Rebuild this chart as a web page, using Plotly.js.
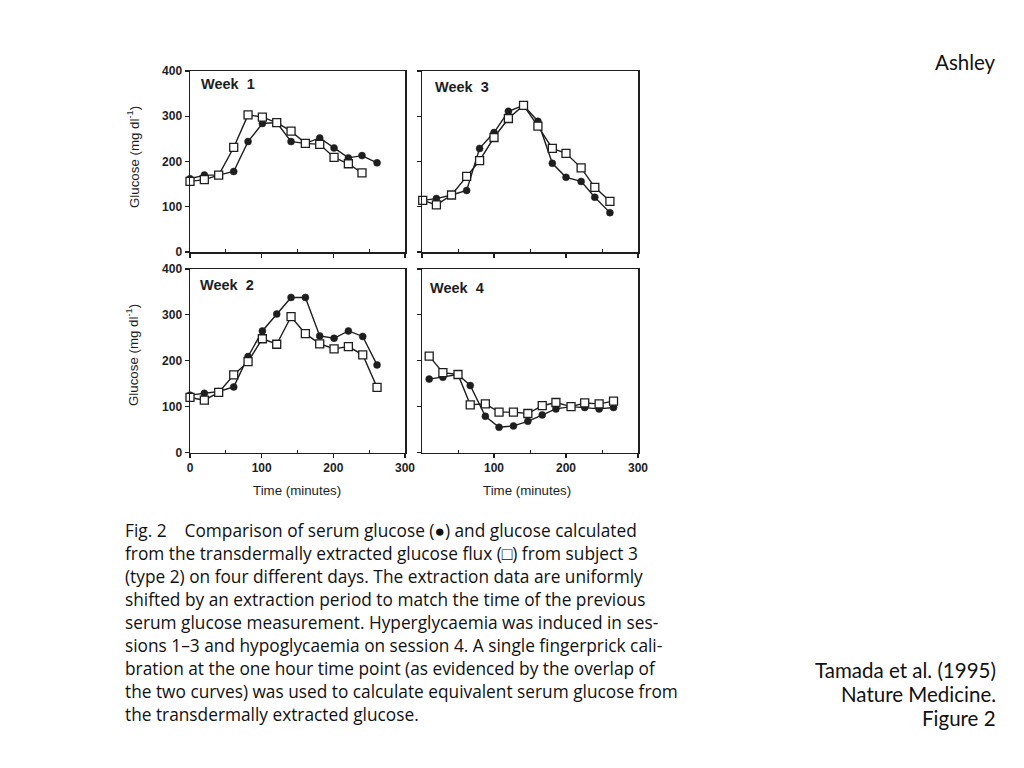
<!DOCTYPE html>
<html>
<head>
<meta charset="utf-8">
<script src="https://cdn.plot.ly/plotly-3.0.1.min.js"></script>
<style>html,body{margin:0;padding:0;background:#fff;}#chart{width:1024px;height:768px;}</style>
</head>
<body>
<div id="chart"></div>
<script>
// ---- Data (time in minutes, glucose in mg/dl) ----
const week1SerumTime = [0, 20, 40, 61, 81, 101, 121, 141, 161, 181, 201, 221, 240, 261];
const week1SerumGlucose = [162, 170, 170, 178, 244, 284, 286, 244, 240, 252, 230, 208, 213, 197];
const week1FluxTime = [0, 20, 40, 61, 81, 101, 121, 141, 161, 181, 201, 221, 240];
const week1FluxGlucose = [156, 160, 170, 231, 303, 298, 286, 267, 240, 238, 209, 195, 175];

const week3SerumTime = [1, 20, 41, 62, 80, 100, 120, 141, 161, 181, 200, 221, 240, 261];
const week3SerumGlucose = [114, 118, 126, 136, 229, 264, 311, 324, 289, 196, 165, 156, 121, 87];
const week3FluxTime = [1, 20, 41, 62, 80, 100, 120, 141, 161, 181, 200, 221, 240, 261];
const week3FluxGlucose = [114, 104, 126, 167, 202, 253, 295, 324, 278, 229, 218, 186, 143, 112];

const week2SerumTime = [0, 20, 40, 61, 81, 101, 121, 141, 161, 181, 201, 221, 241, 261];
const week2SerumGlucose = [125, 129, 133, 143, 209, 265, 302, 338, 338, 254, 249, 265, 253, 191];
const week2FluxTime = [0, 20, 40, 61, 81, 101, 121, 141, 161, 181, 201, 221, 241, 261];
const week2FluxGlucose = [120, 114, 131, 169, 198, 248, 236, 296, 259, 237, 226, 231, 213, 142];

const week4SerumTime = [10, 29, 50, 67, 88, 107, 127, 147, 167, 186, 207, 226, 246, 266];
const week4SerumGlucose = [160, 164, 170, 146, 79, 55, 58, 68, 82, 95, 100, 98, 95, 98];
const week4FluxTime = [10, 29, 50, 67, 88, 107, 127, 147, 167, 186, 207, 226, 246, 266];
const week4FluxGlucose = [210, 174, 170, 104, 106, 88, 88, 85, 102, 109, 100, 108, 106, 112];

const panelLabels = ["Week\u00a0\u00a01", "Week\u00a0\u00a02", "Week\u00a0\u00a03", "Week\u00a0\u00a04"];
const yTickVals = [0, 100, 200, 300, 400];
const xTickValsLeft = [0, 100, 200, 300];
const xTickValsRight = [100, 200, 300];
const xMinorTickVals = [50, 150, 250];
const yTitle = "Glucose (mg dl<sup>-1</sup>)";
const xTitle = "Time (minutes)";
const captionLines = [
  "Fig. 2\u00a0\u00a0\u00a0 Comparison of serum glucose (\u25CF) and glucose calculated",
  "from the transdermally extracted glucose flux (\u25A1) from subject 3",
  "(type 2) on four different days. The extraction data are uniformly",
  "shifted by an extraction period to match the time of the previous",
  "serum glucose measurement. Hyperglycaemia was induced in ses-",
  "sions 1\u20133 and hypoglycaemia on session 4. A single fingerprick cali-",
  "bration at the one hour time point (as evidenced by the overlap of",
  "the two curves) was used to calculate equivalent serum glucose from",
  "the transdermally extracted glucose."
];
const authorText = "Ashley";
const citationLines = ["Tamada et al. (1995)", "Nature Medicine.", "Figure 2"];

// ---- Helpers ----
const W = 1024, H = 768;
const px = x => x / W;
const py = y => 1 - y / H;
const ink = "#1e1e1e";

function serum(x, y, xa, ya) {
  return {x: x, y: y, xaxis: xa, yaxis: ya, type: "scatter", mode: "lines+markers",
    cliponaxis: false, showlegend: false,
    line: {color: ink, width: 1.4},
    marker: {symbol: "circle", size: 7, color: ink, line: {color: ink, width: 0.5}}};
}
function flux(x, y, xa, ya) {
  return {x: x, y: y, xaxis: xa, yaxis: ya, type: "scatter", mode: "lines+markers",
    cliponaxis: false, showlegend: false,
    line: {color: ink, width: 1.4},
    marker: {symbol: "square", size: 8, color: "#ffffff", line: {color: ink, width: 1.3}}};
}

const data = [
  serum(week1SerumTime, week1SerumGlucose, "x", "y"),
  flux(week1FluxTime, week1FluxGlucose, "x", "y"),
  serum(week3SerumTime, week3SerumGlucose, "x2", "y2"),
  flux(week3FluxTime, week3FluxGlucose, "x2", "y2"),
  serum(week2SerumTime, week2SerumGlucose, "x3", "y3"),
  flux(week2FluxTime, week2FluxGlucose, "x3", "y3"),
  serum(week4SerumTime, week4SerumGlucose, "x4", "y4"),
  flux(week4FluxTime, week4FluxGlucose, "x4", "y4")
];

const tickFont = {family: "Liberation Sans, Arial, sans-serif", size: 12, color: ink, weight: "bold"};
function xax(domain, anchor, showLabels, tickvals) {
  return {domain: domain, anchor: anchor, range: [0, 300], showgrid: false, zeroline: false,
    showline: true, mirror: true, linecolor: ink, linewidth: 1.5,
    ticks: "outside", ticklen: 4, tickwidth: 1.2, tickcolor: ink,
    tickmode: "array", tickvals: tickvals,
    minor: {tickmode: "array", tickvals: xMinorTickVals, ticks: "inside", ticklen: 3, tickwidth: 1, tickcolor: ink, showgrid: false},
    showticklabels: showLabels, tickfont: tickFont, fixedrange: true};
}
function yax(domain, anchor, showLabels) {
  return {domain: domain, anchor: anchor, range: [0, 400], showgrid: false, zeroline: false,
    showline: true, mirror: true, linecolor: ink, linewidth: 1.5,
    ticks: "outside", ticklen: 4, tickwidth: 1.2, tickcolor: ink,
    tickmode: "array", tickvals: yTickVals,
    showticklabels: showLabels, tickfont: tickFont, fixedrange: true};
}

const leftX = [px(190), px(405)];
const rightX = [px(422), px(638)];
const topY = [py(252), py(71)];
const botY = [py(452.5), py(269)];

const annotations = [];
function ann(text, x, y, opts) {
  annotations.push(Object.assign({text: text, x: px(x), y: py(y), xref: "paper", yref: "paper",
    showarrow: false, xanchor: "left", yanchor: "middle"}, opts || {}));
}
const weekFont = {family: "Liberation Sans, Arial, sans-serif", size: 14.5, color: ink};
ann("<b>" + panelLabels[0] + "</b>", 199, 84, {font: weekFont});
ann("<b>" + panelLabels[2] + "</b>", 433, 87, {font: weekFont});
ann("<b>" + panelLabels[1] + "</b>", 198, 285, {font: weekFont});
ann("<b>" + panelLabels[3] + "</b>", 428, 288, {font: weekFont});

const titleFont = {family: "Liberation Sans, Arial, sans-serif", size: 13.3, color: ink};
ann(yTitle, 133, 157, {textangle: -90, xanchor: "center", font: titleFont});
ann(yTitle, 133, 355, {textangle: -90, xanchor: "center", font: titleFont});
ann(xTitle, 297, 490, {xanchor: "center", font: titleFont});
ann(xTitle, 527, 490, {xanchor: "center", font: titleFont});

const capFont = {family: "Open Sans, Noto Sans, sans-serif", size: 17.3, color: "#111"};
const capY = [530, 553, 576, 599, 622, 645, 668, 691, 714];
captionLines.forEach((t, i) => ann(t, 123, capY[i], {font: capFont}));

const sideFont = {family: "Lato, Open Sans, sans-serif", size: 20.5, color: "#111"};
ann(authorText, 998, 62, {xanchor: "right", font: sideFont});
const sideY = [670, 694, 718];
citationLines.forEach((t, i) => ann(t, 998, sideY[i], {xanchor: "right", font: sideFont}));

const layout = {
  width: W, height: H, margin: {l: 0, r: 0, t: 0, b: 0},
  paper_bgcolor: "#ffffff", plot_bgcolor: "#ffffff", showlegend: false,
  xaxis: xax(leftX, "y", false, xTickValsLeft),
  yaxis: yax(topY, "x", true),
  xaxis2: xax(rightX, "y2", false, xTickValsLeft),
  yaxis2: yax(topY, "x2", false),
  xaxis3: xax(leftX, "y3", true, xTickValsLeft),
  yaxis3: yax(botY, "x3", true),
  xaxis4: xax(rightX, "y4", true, xTickValsRight),
  yaxis4: yax(botY, "x4", false),
  annotations: annotations
};

Plotly.newPlot("chart", data, layout, {staticPlot: true, displayModeBar: false});
</script>
</body>
</html>
